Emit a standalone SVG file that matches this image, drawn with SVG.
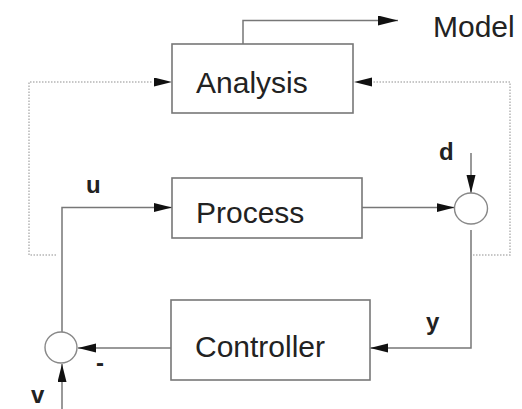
<svg xmlns="http://www.w3.org/2000/svg" width="522" height="409" viewBox="0 0 522 409">
<style>
.box{fill:#fff;stroke:#777;stroke-width:1.6}
.lbl{font-family:"Liberation Sans",Arial,sans-serif;font-size:30px;fill:#222}
.sm{font-family:"Liberation Sans",Arial,sans-serif;font-size:24px;font-weight:bold;fill:#222}
.ln{fill:none;stroke:#777;stroke-width:1.5}
.dot{fill:none;stroke:#b5b5b5;stroke-width:1.5;stroke-dasharray:1.5,1.5}
.sum{fill:#fff;stroke:#888;stroke-width:1.4}
</style>
<defs>
<marker id="ah" markerUnits="userSpaceOnUse" markerWidth="20" markerHeight="10" refX="18" refY="4.5" orient="auto">
<path d="M0,0 L18,4.5 L0,9 z" fill="#111"/>
</marker>
<marker id="ahl" markerUnits="userSpaceOnUse" markerWidth="22" markerHeight="11" refX="20" refY="5" orient="auto">
<path d="M0,0 L20,5 L0,10 z" fill="#111"/>
</marker>
</defs>
<g id="connectors">
<polyline class="ln" points="243,44 243,20.5 398,20.5" marker-end="url(#ahl)"/>
<polyline class="dot" points="56,255 29,255 29,82 152,82"/>
<line x1="150" y1="82" x2="172" y2="82" stroke="none" marker-end="url(#ah)"/>
<polyline class="dot" points="473,255 510,255 510,82 372,82"/>
<line x1="374" y1="82" x2="354" y2="82" stroke="none" marker-end="url(#ah)"/>
<polyline class="ln" points="62,332 62,207.5 172,207.5" marker-end="url(#ah)"/>
<line class="ln" x1="362" y1="207.5" x2="454.5" y2="207.5" marker-end="url(#ah)"/>
<line class="ln" x1="471" y1="153" x2="471" y2="193" marker-end="url(#ah)"/>
<polyline class="ln" points="471,230 471,348 370,348" marker-end="url(#ah)"/>
<line class="ln" x1="171" y1="348" x2="78" y2="348" marker-end="url(#ah)"/>
<line class="ln" x1="62" y1="409" x2="62" y2="364" marker-end="url(#ah)"/>
</g>
<g id="analysis">
<rect class="box" x="172" y="44" width="181" height="69"/>
<text class="lbl" x="196" y="93">Analysis</text>
</g>
<g id="process">
<rect class="box" x="172" y="178" width="190" height="60"/>
<text class="lbl" x="196" y="223">Process</text>
</g>
<g id="controller">
<rect class="box" x="171" y="300" width="199" height="80"/>
<text class="lbl" x="195" y="357">Controller</text>
</g>
<g id="sum-output">
<ellipse class="sum" cx="471" cy="208.5" rx="16.5" ry="15.5"/>
</g>
<g id="sum-input">
<ellipse class="sum" cx="61" cy="347.5" rx="16" ry="15.5"/>
</g>
<g id="labels">
<text class="lbl" x="433" y="37">Model</text>
<text class="sm" x="86" y="193">u</text>
<text class="sm" x="439" y="160">d</text>
<text class="sm" x="426" y="330">y</text>
<text class="sm" x="31" y="403">v</text>
<text class="sm" x="96" y="371">-</text>
</g>
</svg>
